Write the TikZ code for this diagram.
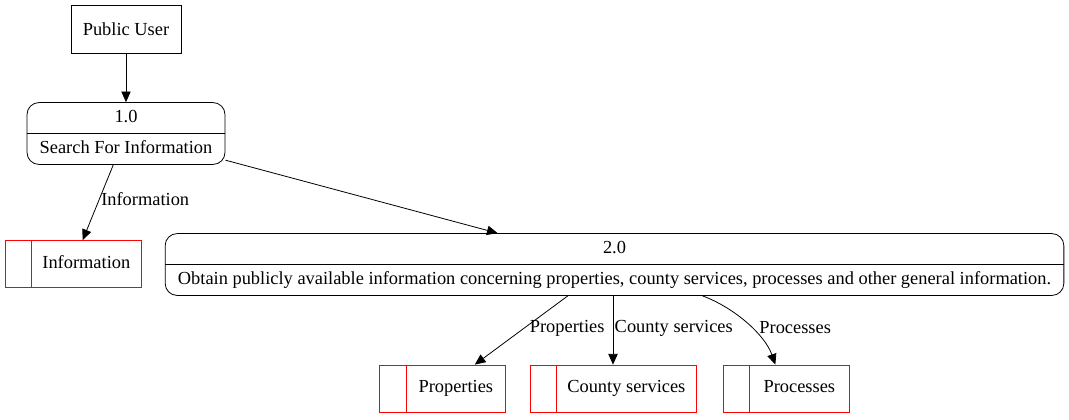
\documentclass[tikz,border=0pt]{standalone}
\usepackage{fontspec}
\setmainfont{Liberation Serif}
\usetikzlibrary{shapes.multipart,arrows.meta}

\begin{document}
\begin{tikzpicture}[x=0.75pt,y=-0.75pt,
    every node/.style={font=\fontsize{13.8}{16.6}\selectfont},
    entity/.style={draw,line width=0.6pt,minimum width=82.5pt,minimum height=36pt,inner sep=0pt},
    process/.style={draw,line width=0.6pt,rectangle split,rectangle split parts=2,rounded corners=9pt,inner ysep=3pt},
    store/.style={draw=red,line width=0.6pt,minimum height=35.25pt,inner sep=0pt,text height=9.5pt,text depth=3pt,
      path picture={\draw[red,line width=0.6pt] ([xshift=20pt]path picture bounding box.north west) -- ([xshift=20pt]path picture bounding box.south west);}},
    flow/.style={-{Triangle[length=8pt,width=7pt]},line width=0.6pt},
    lbl/.style={right,inner sep=1pt}]
  \useasboundingbox (0,0) rectangle (1069,419);

  % 外部实体和处理
  \node[entity] (user) at (126,29) {Public User};
  \node[process,minimum width=148.5pt] (p1) at (126,133.5) {\strut 1.0\nodepart{two}\strut Search For Information};
  \node[process,minimum width=674pt] (p2) at (614.5,264.5) {\strut 2.0\nodepart{two}\strut Obtain publicly available information concerning properties, county services, processes and other general information.};

  % 数据存储
  \node[store,minimum width=102pt] (info) at (73,264) {\hspace*{20pt}Information};
  \node[store,minimum width=94pt] (props) at (442.5,388.5) {\hspace*{20pt}Properties};
  \node[store,minimum width=124.5pt] (county) at (613,388.5) {\hspace*{20pt}County services};
  \node[store,minimum width=94.5pt] (procs) at (786,388.5) {\hspace*{20pt}Processes};

  % 数据流
  \draw[flow] (user) -- (p1);
  \draw[flow] (p1) -- node[lbl,pos=0.45] {Information} (info);
  \draw[flow] (p1) -- (p2);
  \draw[flow] ([xshift=-35pt]p2.south) -- node[lbl,pos=0.47,xshift=3pt] {Properties} (props);
  \draw[flow] (p2.south -| county) -- node[lbl,pos=0.47] {County services} (county);
  \draw[flow] ([xshift=66pt]p2.south) .. controls (735,308) and (765,335) .. ([xshift=-8pt]procs.north)
    node[lbl,pos=0.55,xshift=5pt] {Processes};
\end{tikzpicture}
\end{document}
